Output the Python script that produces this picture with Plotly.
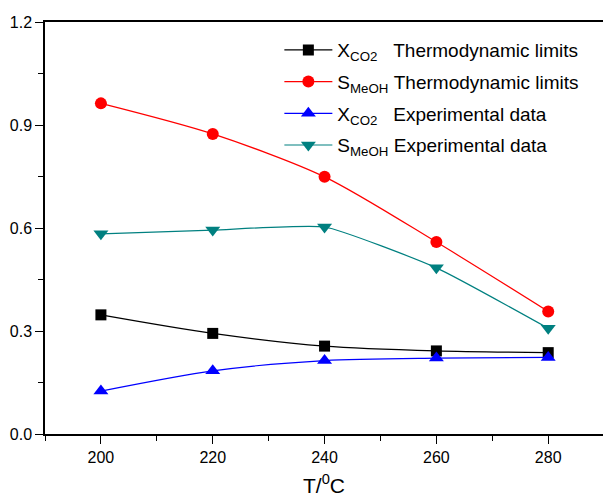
import plotly.graph_objects as go

# Temperature (°C)
temperature = [200, 220, 240, 260, 280]

# CO2 conversion and methanol selectivity
x_co2_thermo = [0.347, 0.293, 0.256, 0.242, 0.237]
s_meoh_thermo = [0.963, 0.874, 0.749, 0.559, 0.357]
x_co2_exp = [0.125, 0.184, 0.214, 0.221, 0.223]
s_meoh_exp = [0.583, 0.594, 0.603, 0.484, 0.308]

pad = "\u00a0"
series = [
    ("X<sub>CO2</sub>" + pad * 3 + "Thermodynamic limits", x_co2_thermo, "#000000", "square", 11, 0.8),
    ("S<sub>MeOH</sub>" + pad + "Thermodynamic limits", s_meoh_thermo, "#FF0000", "circle", 12, 0.8),
    ("X<sub>CO2</sub>" + pad * 3 + "Experimental data", x_co2_exp, "#0000FF", "triangle-up", 13, 0.8),
    ("S<sub>MeOH</sub>" + pad + "Experimental data", s_meoh_exp, "#008080", "triangle-down", 13, 0.45),
]

fig = go.Figure()
for i, (name, vals, color, symbol, size, smooth) in enumerate(series):
    fig.add_trace(go.Scatter(
        x=temperature, y=vals, name=name, mode="lines+markers",
        legendgroup=f"g{i}",
        line=dict(color=color, width=1.2, shape="spline", smoothing=smooth),
        marker=dict(color=color, symbol=symbol, size=size, line=dict(width=0)),
    ))

axis_font = dict(family="Liberation Sans, Arial, sans-serif", size=16, color="#000000")

fig.update_layout(
    width=603, height=497,
    margin=dict(l=45, r=0, t=22, b=63),
    paper_bgcolor="white", plot_bgcolor="white",
    font=dict(family="Liberation Sans, Arial, sans-serif", color="#000000"),
    showlegend=True,
    legend=dict(
        x=0.42, y=0.978, xanchor="left", yanchor="top",
        bgcolor="rgba(0,0,0,0)", borderwidth=0,
        font=dict(family="Liberation Sans, Arial, sans-serif", size=19, color="#000000"),
        itemsizing="trace", itemwidth=48,
        traceorder="grouped", tracegroupgap=4,
    ),
    xaxis=dict(
        range=[190, 289.8], tick0=200, dtick=20,
        showgrid=False, zeroline=False,
        showline=True, linecolor="#000000", linewidth=1.5, mirror=True,
        ticks="outside", ticklen=8, tickwidth=1.3, tickcolor="#000000",
        minor=dict(dtick=10, tick0=190, ticks="outside", ticklen=5, tickwidth=1.3, tickcolor="#000000", showgrid=False),
        tickfont=axis_font,
        title=dict(text="T/<sup>0</sup>C", font=dict(family="Liberation Sans, Arial, sans-serif", size=21, color="#000000"), standoff=14),
    ),
    yaxis=dict(
        range=[0, 1.2], tick0=0, dtick=0.3, tickformat=".1f",
        showgrid=False, zeroline=False,
        showline=True, linecolor="#000000", linewidth=1.5, mirror=False,
        ticks="outside", ticklen=8, tickwidth=1.3, tickcolor="#000000",
        minor=dict(dtick=0.15, ticks="outside", ticklen=5, tickwidth=1.3, tickcolor="#000000", showgrid=False),
        tickfont=axis_font,
    ),
)

fig.write_html("out.html")
